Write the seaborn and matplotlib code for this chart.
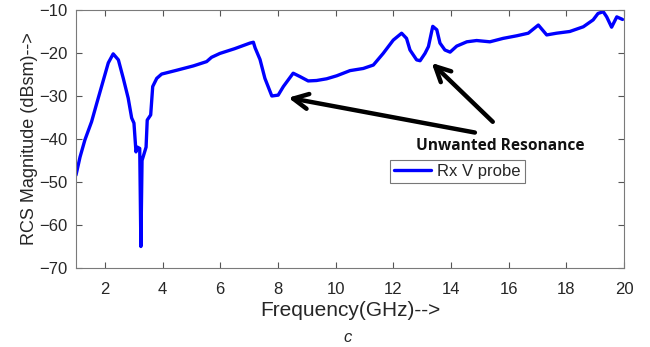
import matplotlib
matplotlib.use("Agg")
import matplotlib.pyplot as plt
import seaborn as sns
import pandas as pd

freq_ghz = [1.0, 1.14, 1.31, 1.54, 1.72, 1.95, 2.12, 2.29, 2.47, 2.64, 2.81, 2.93, 3.01,
            3.08, 3.13, 3.21, 3.25, 3.29, 3.43, 3.47, 3.59, 3.66, 3.80, 3.97, 4.5, 5.07,
            5.53, 5.70, 5.99, 6.5, 7.03, 7.15, 7.21, 7.38, 7.55, 7.79, 8.01, 8.19, 8.53,
            8.77, 9.05, 9.34, 9.69, 10.04, 10.5, 10.96, 11.31, 11.65, 12.0, 12.29, 12.46,
            12.58, 12.81, 12.93, 13.10, 13.22, 13.37, 13.51, 13.62, 13.79, 13.97, 14.2,
            14.55, 14.89, 15.35, 15.81, 16.28, 16.68, 17.03, 17.32, 17.66, 18.12, 18.59,
            18.93, 19.1, 19.28, 19.4, 19.57, 19.75, 19.95]
rcs_dbsm = [-48.4, -44.2, -40.2, -36.0, -31.7, -26.3, -22.3, -20.2, -21.6, -25.9, -30.5, -35.1, -36.3,
            -43.0, -41.9, -42.2, -65.0, -45.0, -41.9, -35.6, -34.4, -27.8, -25.9, -24.9, -24.0, -23.0,
            -22.0, -21.0, -20.1, -19.0, -17.7, -17.5, -18.8, -21.5, -25.9, -30.0, -29.8, -27.8, -24.7,
            -25.5, -26.5, -26.4, -26.0, -25.3, -24.1, -23.6, -22.8, -20.1, -17.0, -15.4, -16.6,
            -19.3, -21.6, -21.8, -20.1, -18.5, -13.8, -14.6, -17.7, -19.3, -19.8, -18.4,
            -17.4, -17.1, -17.4, -16.6, -16.0, -15.4, -13.5, -15.8, -15.4, -15.0, -13.9,
            -12.3, -10.8, -10.4, -11.6, -14.0, -11.6, -12.2]
series_name = "Rx V probe"
x_ticks = [2, 4, 6, 8, 10, 12, 14, 16, 18, 20]
y_ticks = [-70, -60, -50, -40, -30, -20, -10]

sns.set_theme(style="ticks")
plt.rcParams['font.family'] = ['Liberation Sans', 'DejaVu Sans']

df = pd.DataFrame({"freq": freq_ghz, "rcs": rcs_dbsm, "series": series_name})

fig = plt.figure(figsize=(6.5, 3.47), dpi=100)
ax = fig.add_axes([0.1169, 0.2277, 0.8431, 0.7435])
sns.lineplot(data=df, x="freq", y="rcs", hue="series", palette=["#0000ff"],
             sort=False, linewidth=2.4, ax=ax)

ax.set_xlim(1, 20)
ax.set_ylim(-70, -10)
ax.set_xticks(x_ticks)
ax.set_yticks(y_ticks)
tc = "#262626"
ax.tick_params(direction="in", length=4, width=0.8, colors="#555555", labelcolor=tc,
               labelsize=12, top=True, right=True)
ax.tick_params(axis="x", pad=10)
ax.tick_params(axis="y", pad=6)
for s in ax.spines.values():
    s.set_visible(True)
    s.set_color("#7a7a7a")
    s.set_linewidth(0.8)

ax.set_xlabel("Frequency(GHz)-->", fontsize=15, color=tc, labelpad=3)
ax.set_ylabel("RCS Magnitude (dBsm)-->", fontsize=13, color=tc, labelpad=1)

leg = ax.legend(loc="upper left", bbox_to_anchor=(0.573, 0.4186), borderaxespad=0,
                fontsize=12, frameon=True, fancybox=False, handlelength=2.2,
                borderpad=0.25, handletextpad=0.4)
leg.get_frame().set_edgecolor("#555555")
leg.get_frame().set_linewidth(0.8)
for t in leg.get_texts():
    t.set_color(tc)

arrow_kw = dict(arrowstyle="->,head_length=0.9,head_width=0.45", lw=3.2, color="black",
                shrinkA=0, shrinkB=0)
ax.annotate("", xy=(8.36, -30.4), xytext=(14.83, -38.5), arrowprops=arrow_kw)
ax.annotate("", xy=(13.33, -22.3), xytext=(15.45, -36.0), arrowprops=arrow_kw)
ax.text(15.70, -41.6, "Unwanted Resonance", fontsize=11.2, fontweight="bold",
        family=["Open Sans", "DejaVu Sans"], color="#111111", ha="center", va="center")

fig.text(348 / 650, 1 - 338 / 347, "c", fontsize=12, style="italic", color=tc,
         ha="center", va="center")

fig.savefig("out.png", dpi=100)
